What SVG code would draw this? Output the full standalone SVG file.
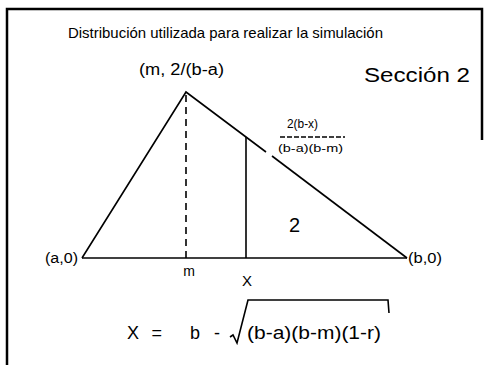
<svg xmlns="http://www.w3.org/2000/svg" width="485" height="365" viewBox="0 0 485 365">
<style>
.t{font-family:"Liberation Sans",Arial,sans-serif;fill:#000}
.ln{stroke:#000;fill:none;stroke-width:1.6}
.frame{stroke:#000;fill:none;stroke-width:2.5}
</style>
<rect width="485" height="365" fill="#fff"/>
<g id="frame">
<polyline class="frame" points="7,365 7,9 482,9 482,140"/>
</g>
<g id="connectors">
<polyline class="ln" points="82,258 186,92 266,152"/>
<line class="ln" x1="272" y1="156" x2="407" y2="258"/>
<line class="ln" x1="82" y1="258" x2="407" y2="258"/>
<line class="ln" x1="186" y1="95" x2="186" y2="258" stroke-dasharray="7,5"/>
<line class="ln" x1="246" y1="137" x2="246" y2="258"/>
<line class="ln" x1="280" y1="137" x2="345" y2="137" stroke-dasharray="5,2" stroke-width="1"/>
<polyline class="ln" points="230,337 233,335 237,343 248,300 388,300 389,313"/>
</g>
<g id="title"><text class="t" x="68" y="38" font-size="14.5" textLength="315" lengthAdjust="spacingAndGlyphs">Distribución utilizada para realizar la simulación</text></g>
<g id="apex"><text class="t" x="139" y="75" font-size="16" textLength="85" lengthAdjust="spacingAndGlyphs">(m, 2/(b-a)</text></g>
<g id="seccion"><text class="t" x="364" y="82" font-size="20" textLength="106" lengthAdjust="spacingAndGlyphs">Sección 2</text></g>
<g id="fraction">
<text class="t" x="287" y="128" font-size="12" textLength="31" lengthAdjust="spacingAndGlyphs">2(b-x)</text>
<text class="t" x="278" y="152" font-size="11.5" textLength="65" lengthAdjust="spacingAndGlyphs">(b-a)(b-m)</text>
</g>
<g id="region2"><text class="t" x="289" y="232" font-size="20">2</text></g>
<g id="a0"><text class="t" x="45" y="263" font-size="14" textLength="33" lengthAdjust="spacingAndGlyphs">(a,0)</text></g>
<g id="b0"><text class="t" x="408" y="263" font-size="14" textLength="34" lengthAdjust="spacingAndGlyphs">(b,0)</text></g>
<g id="m"><text class="t" x="189" y="276" font-size="14" text-anchor="middle">m</text></g>
<g id="x"><text class="t" x="247" y="286" font-size="15" text-anchor="middle">X</text></g>
<g id="formula">
<text class="t" x="127" y="339" font-size="18" textLength="35" lengthAdjust="spacing">X =</text>
<text class="t" x="190" y="339" font-size="18" textLength="30" lengthAdjust="spacing">b -</text>
<text class="t" x="247" y="339" font-size="17.5" textLength="134" lengthAdjust="spacingAndGlyphs">(b-a)(b-m)(1-r)</text>
</g>
</svg>
